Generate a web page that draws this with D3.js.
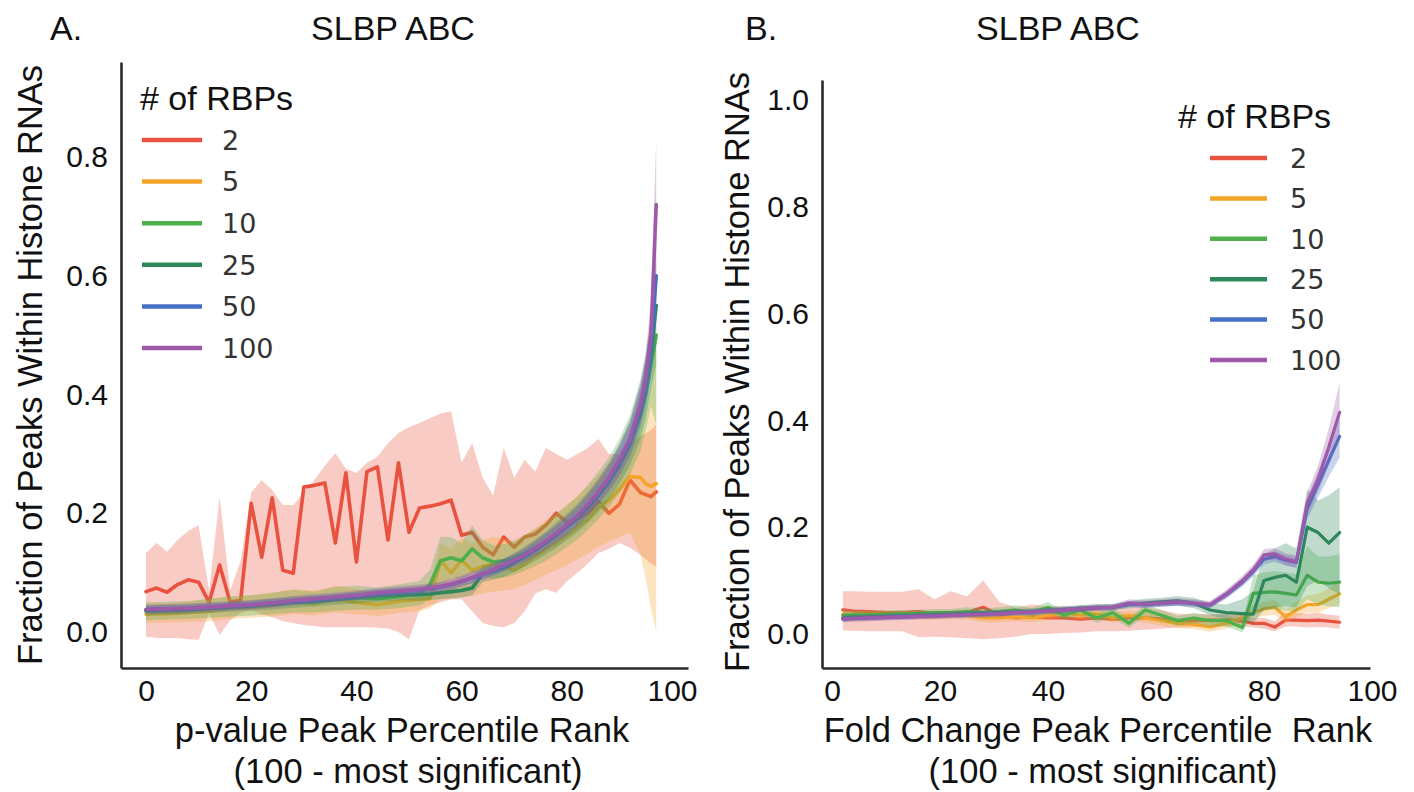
<!DOCTYPE html>
<html><head><meta charset="utf-8">
<script src="https://cdn.jsdelivr.net/npm/d3@7"></script>
<style>
body{margin:0;background:#fff}
svg{display:block}
</style>
</head><body>
<svg id="c" width="1414" height="792"></svg>
<script>
// ---------- shared ----------
const hueNames = ["2","5","10","25","50","100"];
const hueColors = ["#e8523f","#f5a42a","#4db04a","#2d875a","#4570c8","#9e5aa8"];
const yTicksA = [0.0,0.2,0.4,0.6,0.8];
const yTicksB = [0.0,0.2,0.4,0.6,0.8,1.0];
const xTicks = [0,20,40,60,80,100];

// ---------- Panel A (p-value rank) ----------
const xA = [0,4,8,12,16,20,24,28,32,36,40,44,48,52,54,56,58,60,62,64,66,68,70,72,74,76,78,80,82,84,86,88,90,92,94,95,96,97];
const xA_red = [0,2,4,6,8,10,12,14,16,18,20,22,24,26,28,30,32,34,36,38,40,42,44,46,48,50,52,54,56,58,60,62,64,66,68,70,72,74,76,78,80,82,84,86,88,90,92,94,96,97];

const A2   = [0.068,0.074,0.067,0.080,0.088,0.084,0.050,0.113,0.050,0.054,0.217,0.126,0.226,0.104,0.099,0.244,0.247,0.251,0.150,0.268,0.118,0.270,0.278,0.155,0.285,0.168,0.209,0.212,0.216,0.222,0.163,0.168,0.143,0.130,0.160,0.143,0.160,0.165,0.180,0.200,0.185,0.190,0.200,0.220,0.200,0.215,0.256,0.235,0.228,0.236];
const A2lo = [-0.008,-0.010,-0.010,-0.010,-0.012,-0.013,0.032,-0.005,0.020,0.032,0.037,0.030,0.025,0.018,0.015,0.012,0.010,0.008,0.008,0.008,0.008,0.008,0.007,0.006,0.000,-0.012,0.037,0.045,0.050,0.055,0.055,0.035,0.015,0.010,0.008,0.015,0.035,0.065,0.072,0.066,0.085,0.100,0.115,0.133,0.140,0.150,0.142,0.130,0.115,0.110];
const A2hi = [0.133,0.150,0.135,0.155,0.170,0.180,0.070,0.227,0.070,0.120,0.235,0.256,0.239,0.214,0.214,0.235,0.256,0.280,0.301,0.275,0.268,0.285,0.295,0.318,0.335,0.345,0.352,0.360,0.368,0.372,0.285,0.318,0.260,0.230,0.310,0.260,0.290,0.270,0.310,0.300,0.290,0.300,0.310,0.325,0.300,0.300,0.320,0.330,0.340,0.350];

const A5   = [0.030,0.031,0.033,0.035,0.040,0.042,0.045,0.050,0.048,0.055,0.050,0.046,0.052,0.055,0.056,0.120,0.100,0.121,0.104,0.110,0.115,0.110,0.104,0.115,0.128,0.140,0.150,0.163,0.177,0.190,0.210,0.222,0.240,0.262,0.260,0.250,0.245,0.250];
const A5lo = [0.015,0.016,0.017,0.018,0.022,0.024,0.026,0.030,0.028,0.033,0.030,0.027,0.032,0.035,0.040,0.055,0.055,0.060,0.060,0.065,0.068,0.070,0.072,0.080,0.088,0.096,0.104,0.113,0.122,0.132,0.143,0.152,0.160,0.167,0.130,0.090,0.040,0.000];
const A5hi = [0.048,0.049,0.052,0.055,0.060,0.062,0.066,0.072,0.070,0.078,0.072,0.068,0.074,0.078,0.080,0.150,0.140,0.160,0.150,0.155,0.160,0.158,0.152,0.163,0.175,0.188,0.200,0.214,0.230,0.245,0.265,0.282,0.300,0.330,0.360,0.380,0.420,0.500];

const A10   = [0.035,0.036,0.037,0.040,0.043,0.045,0.048,0.052,0.050,0.056,0.058,0.056,0.060,0.065,0.080,0.120,0.125,0.120,0.140,0.125,0.118,0.120,0.125,0.133,0.142,0.152,0.165,0.178,0.192,0.210,0.230,0.252,0.280,0.315,0.365,0.400,0.450,0.500];
const A10lo = [0.020,0.021,0.022,0.024,0.026,0.028,0.030,0.033,0.033,0.036,0.038,0.038,0.040,0.045,0.055,0.080,0.090,0.090,0.100,0.095,0.090,0.092,0.096,0.103,0.111,0.120,0.131,0.143,0.156,0.172,0.190,0.210,0.235,0.265,0.305,0.340,0.380,0.350];
const A10hi = [0.050,0.051,0.052,0.056,0.060,0.062,0.066,0.071,0.068,0.076,0.078,0.075,0.080,0.086,0.105,0.160,0.160,0.150,0.180,0.155,0.146,0.148,0.154,0.163,0.173,0.184,0.199,0.213,0.228,0.248,0.270,0.294,0.325,0.365,0.425,0.470,0.530,0.600];

const A25   = [0.036,0.037,0.038,0.040,0.042,0.044,0.047,0.050,0.052,0.055,0.058,0.061,0.063,0.063,0.064,0.066,0.068,0.070,0.074,0.098,0.102,0.108,0.117,0.127,0.138,0.150,0.163,0.177,0.192,0.210,0.230,0.254,0.283,0.318,0.370,0.410,0.470,0.550];
const A25lo = [0.028,0.029,0.030,0.032,0.034,0.036,0.038,0.041,0.043,0.046,0.048,0.051,0.053,0.053,0.054,0.055,0.057,0.058,0.062,0.084,0.088,0.093,0.101,0.110,0.120,0.131,0.142,0.155,0.168,0.184,0.202,0.223,0.250,0.280,0.325,0.360,0.410,0.450];
const A25hi = [0.044,0.045,0.046,0.048,0.050,0.052,0.056,0.059,0.061,0.064,0.068,0.071,0.073,0.073,0.074,0.077,0.079,0.082,0.086,0.112,0.116,0.123,0.133,0.144,0.156,0.169,0.184,0.199,0.216,0.236,0.258,0.285,0.316,0.356,0.415,0.460,0.530,0.620];

const A50   = [0.038,0.039,0.040,0.042,0.044,0.046,0.049,0.052,0.055,0.058,0.061,0.065,0.068,0.071,0.073,0.076,0.080,0.085,0.091,0.097,0.104,0.112,0.120,0.129,0.140,0.152,0.165,0.179,0.195,0.213,0.234,0.258,0.287,0.322,0.378,0.420,0.480,0.600];
const A50lo = [0.031,0.032,0.033,0.035,0.037,0.039,0.042,0.045,0.048,0.051,0.054,0.058,0.061,0.064,0.066,0.069,0.072,0.077,0.082,0.088,0.095,0.102,0.110,0.118,0.128,0.139,0.151,0.164,0.179,0.196,0.215,0.237,0.263,0.296,0.345,0.380,0.430,0.520];
const A50hi = [0.045,0.046,0.047,0.049,0.051,0.053,0.056,0.059,0.062,0.065,0.068,0.072,0.075,0.078,0.080,0.083,0.088,0.093,0.100,0.106,0.113,0.122,0.130,0.140,0.152,0.165,0.179,0.194,0.211,0.230,0.253,0.279,0.311,0.348,0.411,0.460,0.530,0.680];

const A100   = [0.038,0.039,0.040,0.042,0.044,0.046,0.049,0.053,0.056,0.059,0.062,0.066,0.069,0.072,0.074,0.077,0.081,0.086,0.092,0.098,0.105,0.113,0.121,0.130,0.141,0.153,0.166,0.180,0.196,0.215,0.236,0.260,0.290,0.326,0.385,0.430,0.500,0.720];
const A100lo = [0.030,0.031,0.032,0.034,0.036,0.038,0.041,0.045,0.048,0.051,0.054,0.058,0.061,0.064,0.066,0.069,0.072,0.077,0.082,0.088,0.095,0.102,0.110,0.118,0.128,0.139,0.151,0.164,0.179,0.196,0.215,0.237,0.264,0.297,0.350,0.390,0.450,0.600];
const A100hi = [0.046,0.047,0.048,0.050,0.052,0.054,0.057,0.061,0.064,0.067,0.070,0.074,0.077,0.080,0.082,0.085,0.090,0.095,0.102,0.108,0.115,0.124,0.132,0.142,0.154,0.167,0.181,0.196,0.213,0.234,0.257,0.283,0.316,0.355,0.420,0.470,0.560,0.830];

// ---------- Panel B (fold-change rank) ----------
const xB = [2,4,7,10,13,16,19,22,25,28,31,34,37,40,43,46,49,52,55,58,61,64,67,70,73,76,78,80,82,84,86,88,90,92,94];

const B2   = [0.045,0.043,0.042,0.040,0.040,0.042,0.038,0.035,0.040,0.050,0.035,0.030,0.032,0.030,0.030,0.028,0.030,0.028,0.030,0.030,0.028,0.025,0.025,0.026,0.026,0.024,0.020,0.020,0.013,0.026,0.026,0.025,0.026,0.024,0.022];
const B2lo = [0.007,0.006,0.005,0.005,0.005,-0.006,-0.005,-0.006,-0.008,-0.010,-0.008,-0.005,0.000,0.000,0.002,0.003,0.005,0.005,0.006,0.008,0.010,0.012,0.013,0.014,0.015,0.014,0.012,0.010,0.005,0.014,0.014,0.012,0.013,0.012,0.010];
const B2hi = [0.080,0.080,0.079,0.079,0.079,0.084,0.065,0.080,0.070,0.100,0.060,0.050,0.055,0.052,0.052,0.050,0.050,0.048,0.050,0.050,0.045,0.038,0.037,0.038,0.037,0.036,0.030,0.030,0.024,0.040,0.040,0.038,0.040,0.036,0.034];

const B5   = [0.037,0.036,0.036,0.035,0.036,0.035,0.034,0.036,0.035,0.030,0.030,0.032,0.030,0.035,0.040,0.035,0.038,0.030,0.035,0.030,0.025,0.020,0.018,0.013,0.020,0.030,0.040,0.047,0.050,0.032,0.045,0.055,0.055,0.065,0.075];
const B5lo = [0.029,0.028,0.028,0.027,0.028,0.027,0.026,0.028,0.027,0.022,0.022,0.024,0.022,0.026,0.031,0.026,0.029,0.021,0.026,0.021,0.016,0.011,0.009,0.004,0.010,0.020,0.028,0.034,0.036,0.020,0.032,0.040,0.040,0.048,0.055];
const B5hi = [0.045,0.044,0.044,0.043,0.044,0.043,0.042,0.044,0.043,0.038,0.038,0.040,0.038,0.044,0.049,0.044,0.047,0.039,0.044,0.039,0.034,0.029,0.027,0.022,0.030,0.040,0.052,0.060,0.064,0.046,0.060,0.072,0.075,0.085,0.100];

const B10   = [0.035,0.036,0.036,0.037,0.038,0.038,0.040,0.040,0.042,0.040,0.042,0.045,0.040,0.050,0.035,0.045,0.030,0.040,0.020,0.045,0.035,0.025,0.030,0.025,0.025,0.012,0.076,0.078,0.079,0.076,0.073,0.110,0.097,0.095,0.097];
const B10lo = [0.028,0.029,0.029,0.030,0.031,0.031,0.033,0.033,0.034,0.032,0.034,0.036,0.031,0.040,0.026,0.035,0.021,0.030,0.011,0.034,0.025,0.016,0.020,0.015,0.014,0.003,0.040,0.045,0.046,0.044,0.042,0.065,0.055,0.052,0.050];
const B10hi = [0.042,0.043,0.043,0.044,0.045,0.045,0.047,0.047,0.050,0.048,0.050,0.054,0.049,0.060,0.044,0.055,0.039,0.050,0.029,0.056,0.045,0.034,0.040,0.035,0.036,0.021,0.110,0.115,0.118,0.115,0.112,0.165,0.145,0.145,0.150];

const B25   = [0.030,0.031,0.032,0.033,0.034,0.035,0.036,0.037,0.038,0.039,0.040,0.041,0.042,0.044,0.046,0.048,0.050,0.050,0.055,0.058,0.060,0.062,0.058,0.045,0.040,0.038,0.037,0.100,0.106,0.110,0.097,0.200,0.190,0.170,0.190];
const B25lo = [0.024,0.025,0.026,0.027,0.028,0.029,0.030,0.031,0.032,0.033,0.034,0.035,0.036,0.038,0.040,0.042,0.044,0.044,0.048,0.050,0.052,0.053,0.048,0.035,0.028,0.022,0.020,0.045,0.050,0.052,0.050,0.090,0.100,0.085,0.075];
const B25hi = [0.036,0.037,0.038,0.039,0.040,0.041,0.042,0.043,0.044,0.045,0.046,0.047,0.048,0.050,0.052,0.054,0.056,0.056,0.062,0.066,0.068,0.071,0.068,0.058,0.055,0.065,0.080,0.150,0.160,0.170,0.160,0.270,0.250,0.260,0.275];

const B50   = [0.028,0.029,0.030,0.031,0.032,0.033,0.034,0.035,0.036,0.037,0.038,0.040,0.041,0.043,0.045,0.047,0.049,0.050,0.056,0.055,0.057,0.059,0.057,0.054,0.073,0.097,0.117,0.140,0.145,0.138,0.134,0.235,0.280,0.325,0.370];
const B50lo = [0.023,0.024,0.025,0.026,0.027,0.028,0.029,0.030,0.031,0.032,0.033,0.035,0.036,0.038,0.040,0.042,0.044,0.045,0.050,0.049,0.051,0.053,0.051,0.048,0.066,0.089,0.108,0.130,0.135,0.128,0.124,0.215,0.255,0.295,0.330];
const B50hi = [0.033,0.034,0.035,0.036,0.037,0.038,0.039,0.040,0.041,0.042,0.043,0.045,0.046,0.048,0.050,0.052,0.054,0.055,0.062,0.061,0.063,0.065,0.063,0.060,0.080,0.105,0.126,0.150,0.155,0.148,0.144,0.255,0.305,0.355,0.410];

const B100   = [0.028,0.029,0.030,0.031,0.032,0.033,0.034,0.035,0.036,0.037,0.038,0.040,0.041,0.043,0.045,0.047,0.049,0.050,0.058,0.056,0.058,0.060,0.058,0.055,0.075,0.100,0.120,0.148,0.150,0.140,0.136,0.245,0.290,0.350,0.415];
const B100lo = [0.022,0.023,0.024,0.025,0.026,0.027,0.028,0.029,0.030,0.031,0.032,0.034,0.035,0.037,0.039,0.041,0.043,0.044,0.051,0.049,0.051,0.053,0.051,0.048,0.067,0.091,0.110,0.137,0.139,0.129,0.124,0.225,0.265,0.315,0.370];
const B100hi = [0.034,0.035,0.036,0.037,0.038,0.039,0.040,0.041,0.042,0.043,0.044,0.046,0.047,0.049,0.051,0.053,0.055,0.056,0.065,0.063,0.065,0.067,0.065,0.062,0.083,0.109,0.130,0.159,0.161,0.151,0.148,0.265,0.315,0.385,0.470];

// ---------- drawing ----------
const svg = d3.select("#c");
const SANS = "'Liberation Sans', Arial, Helvetica, sans-serif";
const DEJA = "'DejaVu Sans', sans-serif";

function mk(x, y, lo, hi){ return x.map((v,i)=>({x:v, y:y[i], lo:lo[i], hi:hi[i]})); }

function drawPanel(p){
  const g = svg.append("g");
  const x = d3.scaleLinear().domain(p.xDomain).range(p.xRange);
  const y = d3.scaleLinear().domain(p.yDomain).range(p.yRange);
  const area = d3.area().x(d=>x(d.x)).y0(d=>y(d.lo)).y1(d=>y(d.hi));
  const line = d3.line().x(d=>x(d.x)).y(d=>y(d.y));
  p.series.forEach((s,i)=>{
    g.append("path").datum(s).attr("d", area)
      .attr("fill", hueColors[i]).attr("fill-opacity", 0.3).attr("stroke","none");
    g.append("path").datum(s).attr("d", line)
      .attr("fill","none").attr("stroke", hueColors[i])
      .attr("stroke-width", p.lw).attr("stroke-linejoin","round").attr("stroke-linecap","round");
  });
  const ax = g.append("g").attr("transform", `translate(${p.xRange[0]},0)`)
    .call(d3.axisLeft(y).tickValues(p.yTicks).tickFormat(d3.format(".1f")).tickSize(0).tickSizeOuter(0).tickPadding(13));
  const bx = g.append("g").attr("transform", `translate(0,${p.yRange[0]})`)
    .call(d3.axisBottom(x).tickValues(xTicks).tickFormat(d3.format("d")).tickSize(0).tickSizeOuter(0).tickPadding(12));
  [ax,bx].forEach(a=>{
    a.attr("font-family", SANS).attr("font-size", 30);
    a.selectAll("text").attr("fill","#111");
    a.select(".domain").attr("stroke","#2a2a2a").attr("stroke-width",2.6);
  });
  // titles
  svg.append("text").attr("x", p.letterX).attr("y", 40).text(p.letter)
    .attr("font-family", SANS).attr("font-size", 34).attr("fill","#111");
  svg.append("text").attr("x", p.titleX).attr("y", 40).attr("text-anchor","middle").text("SLBP ABC")
    .attr("font-family", SANS).attr("font-size", 34).attr("fill","#111");
  // x label
  svg.append("text").attr("x", p.xl1X).attr("y", 742).attr("text-anchor","middle")
    .style("white-space","pre").text(p.xLabel1)
    .attr("font-family", SANS).attr("font-size", 34.5).attr("fill","#111");
  svg.append("text").attr("x", p.xl2X).attr("y", 783).attr("text-anchor","middle").text(p.xLabel2)
    .attr("font-family", SANS).attr("font-size", 34.5).attr("fill","#111");
  // y label
  svg.append("text").attr("transform", `translate(${p.ylX},${p.ylY}) rotate(-90)`)
    .attr("text-anchor","middle").attr("dy","0.36em").text("Fraction of Peaks Within Histone RNAs")
    .attr("font-family", SANS).attr("font-size", 34.5).attr("fill","#111");
  // legend
  const lg = svg.append("g");
  lg.append("text").attr("x", p.leg.titleX).attr("y", p.leg.titleY).text("# of RBPs")
    .attr("font-family", SANS).attr("font-size", 34).attr("fill","#111");
  hueNames.forEach((n,i)=>{
    const yy = p.leg.row0 + i*p.leg.dy;
    lg.append("line").attr("x1", p.leg.lx1).attr("x2", p.leg.lx2).attr("y1", yy).attr("y2", yy)
      .attr("stroke", hueColors[i]).attr("stroke-width", 4.5);
    lg.append("text").attr("x", p.leg.tx).attr("y", yy).attr("dy","0.36em").text(n)
      .attr("font-family", DEJA).attr("font-size", 27).attr("fill","#333");
  });
}

drawPanel({
  xDomain:[-4.75,103.04], xRange:[121,688],
  yDomain:[-0.0606,0.96], yRange:[668,62],
  yTicks:yTicksA, lw:3.6,
  series:[mk(xA_red,A2,A2lo,A2hi), mk(xA,A5,A5lo,A5hi), mk(xA,A10,A10lo,A10hi),
          mk(xA,A25,A25lo,A25hi), mk(xA,A50,A50lo,A50hi), mk(xA,A100,A100lo,A100hi)],
  letter:"A.", letterX:50, titleX:393,
  xLabel1:"p-value Peak Percentile Rank", xLabel2:"(100 - most significant)", xl1X:402, xl2X:408,
  ylX:30, ylY:365,
  leg:{titleX:140, titleY:110, row0:140, dy:41.6, lx1:142, lx2:202, tx:222}
});

drawPanel({
  xDomain:[-1.852,99.63], xRange:[822,1370],
  yDomain:[-0.0637,1.0375], yRange:[668,80],
  yTicks:yTicksB, lw:3.2,
  series:[mk(xB,B2,B2lo,B2hi), mk(xB,B5,B5lo,B5hi), mk(xB,B10,B10lo,B10hi),
          mk(xB,B25,B25lo,B25hi), mk(xB,B50,B50lo,B50hi), mk(xB,B100,B100lo,B100hi)],
  letter:"B.", letterX:745, titleX:1058,
  xLabel1:"Fold Change Peak Percentile  Rank", xLabel2:"(100 - most significant)", xl1X:1098, xl2X:1103,
  ylX:737, ylY:372,
  leg:{titleX:1178, titleY:128, row0:158, dy:40.4, lx1:1210, lx2:1267, tx:1290}
});
</script>
</body></html>
